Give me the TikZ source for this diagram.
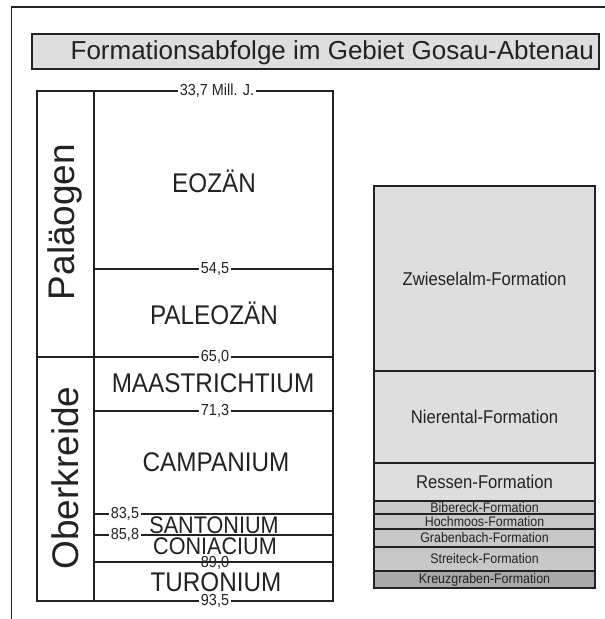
\documentclass[tikz,border=0pt]{standalone}
\usepackage{fontspec}
\setmainfont{Liberation Sans}
\newfontfamily\narrowsans[FakeStretch=0.9]{Liberation Sans}
\usepackage{xcolor}
\usetikzlibrary{positioning}

\definecolor{lightgrey}{HTML}{DEDEDE}
\definecolor{midgrey}{HTML}{C8C8C8}
\definecolor{darkgrey}{HTML}{A9A9A9}
\definecolor{inkgrey}{HTML}{222222}

\tikzset{
  frameline/.style={draw=inkgrey, line width=1.4pt},
  tableline/.style={draw=inkgrey, line width=1.4pt},
  stage/.style={font=\narrowsans\fontsize{27}{27}\selectfont, text=inkgrey, inner sep=0pt},
  smallstage/.style={font=\narrowsans\fontsize{24}{24}\selectfont, text=inkgrey, inner sep=0pt},
  period/.style={font=\fontsize{37}{37}\selectfont, text=inkgrey, rotate=90, inner sep=0pt},
  age/.style={font=\narrowsans\fontsize{16}{16}\selectfont, text=inkgrey, fill=white, inner sep=1.5pt},
  formation/.style={draw=inkgrey, line width=2.2pt, fill=lightgrey, minimum width=221pt,
    inner sep=0pt, outer sep=0pt, text=inkgrey, font=\narrowsans\fontsize{18.5}{18.5}\selectfont},
  thinformation/.style={formation, fill=midgrey, font=\narrowsans\fontsize{13.8}{13.8}\selectfont},
}

\begin{document}
\begin{tikzpicture}[x=1pt,y=-1pt]
\useasboundingbox (0,0) rectangle (605,619);

% Frame and title
\draw[frameline] (605,7) -- (11.5,7) -- (11.5,619);
\node[draw=inkgrey, line width=1.4pt, fill=lightgrey, minimum width=567pt, minimum height=35pt, inner sep=0pt] (titlebox) at (315.5,51.5) {};
\node[anchor=east, font=\fontsize{26}{26}\selectfont, text=inkgrey, inner sep=0pt] (title) at (594,53) {Formationsabfolge im Gebiet Gosau-Abtenau};

% Stratigraphic table
\draw[tableline] (37,91) rectangle (333,601);
\draw[tableline] (94,91) -- (94,601);
\draw[tableline] (37,357) -- (333,357);
\foreach \yy in {269,411,514,535,562}
  \draw[tableline] (94,\yy) -- (333,\yy);

\node[period] (palaeogen) at (65,222) {Paläogen};
\node[period] (oberkreide) at (65,478) {Oberkreide};

\node[stage] (eozaen) at (214,181) {EOZÄN};
\node[stage] (paleozaen) at (214,313) {PALEOZÄN};
\node[stage] (maastricht) at (213,383) {MAASTRICHTIUM};
\node[stage] (campan) at (216,462) {CAMPANIUM};
\node[smallstage] (santon) at (214,525) {SANTONIUM};
\node[smallstage] (coniac) at (215,546) {CONIACIUM};
\node[stage] (turon) at (216,582) {TURONIUM};

\node[age] (a337) at (217,91) {33,7 Mill. J.};
\node[age] (a545) at (215,269) {54,5};
\node[age] (a650) at (215,357) {65,0};
\node[age] (a713) at (215,411) {71,3};
\node[age] (a835) at (125,514) {83,5};
\node[age] (a858) at (125,535) {85,8};
\node[age, fill=none] (a890) at (215,563) {89,0};
\node[age] (a935) at (215,601) {93,5};

% Formations of the Gosau group
\node[formation, minimum height=185pt] (zwiesel) at (484.5,278.5) {Zwieselalm-Formation};
\node[formation, minimum height=92pt, below=0pt of zwiesel] (nierental) {Nierental-Formation};
\node[formation, minimum height=38pt, below=0pt of nierental] (ressen) {Ressen-Formation};
\node[thinformation, minimum height=13pt, below=0pt of ressen] (bibereck) {Bibereck-Formation};
\node[thinformation, minimum height=15pt, below=0pt of bibereck] (hochmoos) {Hochmoos-Formation};
\node[thinformation, minimum height=18pt, below=0pt of hochmoos] (grabenbach) {Grabenbach-Formation};
\node[thinformation, minimum height=24pt, below=0pt of grabenbach] (streiteck) {Streiteck-Formation};
\node[thinformation, fill=darkgrey, minimum height=17pt, below=0pt of streiteck] (kreuzgraben) {Kreuzgraben-Formation};
\end{tikzpicture}
\end{document}
